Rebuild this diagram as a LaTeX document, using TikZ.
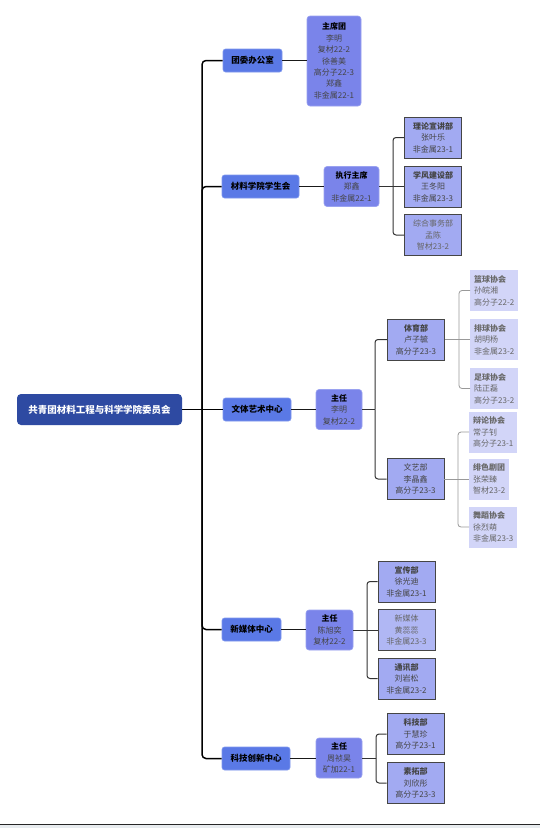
\documentclass[tikz,border=0pt]{standalone}
\usepackage{fontspec}
\setmainfont{Noto Sans CJK SC}
\definecolor{rootc}{HTML}{2E4AA2}
\definecolor{lonec}{HTML}{5A79E6}
\definecolor{loneb}{HTML}{7F98EE}
\definecolor{ltwoc}{HTML}{7A84EA}
\definecolor{ltwob}{HTML}{9AA2F0}
\definecolor{lthreec}{HTML}{A2AAF2}
\definecolor{lthreeb}{HTML}{454545}
\definecolor{lfourc}{HTML}{D2D5F8}
\definecolor{tgray}{HTML}{444444}
\definecolor{tlight}{HTML}{666666}
\definecolor{bandc}{HTML}{E8ECEF}
\tikzset{
  rootbox/.style={fill=rootc, rounded corners=4pt, text=white, font=\fontsize{9.5}{12}\selectfont\bfseries, minimum width=165pt, minimum height=31pt, inner sep=0pt},
  onebox/.style={fill=lonec, draw=loneb, line width=0.6pt, rounded corners=2.5pt, font=\fontsize{8.5}{11}\selectfont\bfseries, minimum height=23pt, inner sep=0pt},
  twobox/.style={fill=ltwoc, draw=ltwob, line width=0.6pt, rounded corners=3pt, align=center, font=\fontsize{8}{11.4}\selectfont, text=tgray, minimum height=40pt, inner sep=0pt},
  threebox/.style={fill=lthreec, draw=lthreeb, line width=0.8pt, align=center, font=\fontsize{8}{11.4}\selectfont, text=tgray, minimum width=57pt, minimum height=41pt, inner sep=0pt},
  fourbox/.style={fill=lfourc, align=left, anchor=west, font=\fontsize{8}{11.4}\selectfont, text=tlight, minimum height=41pt, inner xsep=4pt, inner ysep=0pt},
  trunk/.style={draw=black, line width=1.5pt, rounded corners=4pt},
  conntwo/.style={draw=black!90, line width=1.1pt, rounded corners=3pt},
  connthree/.style={draw=black!80, line width=1pt, rounded corners=3pt},
  connfour/.style={draw=black!40, line width=0.8pt, rounded corners=3pt},
}
\newcommand{\ttl}[1]{{\bfseries\color{black}#1}}
\newcommand{\ttlg}[1]{{\bfseries\color{tgray}#1}}
\begin{document}
\begin{tikzpicture}[x=1pt,y=-1pt]
\useasboundingbox (0,0) rectangle (540,828);
\fill[white] (0,0) rectangle (540,828);
\fill[bandc] (0,825) rectangle (540,828);
\draw[black!85, line width=1pt] (0,824.5) -- (540,824.5);

% root
\node[rootbox] (root) at (99.5,409.5) {共青团材料工程与科学学院委员会};

% level 1
\node[onebox, minimum width=59pt] (a1) at (252.5,60.5) {团委办公室};
\node[onebox, minimum width=77pt] (b1) at (260.5,186.5) {材料学院学生会};
\node[onebox, minimum width=68pt] (c1) at (257,409.5) {文体艺术中心};
\node[onebox, minimum width=59pt] (d1) at (251.5,629.5) {新媒体中心};
\node[onebox, minimum width=68pt] (e1) at (256,758.5) {科技创新中心};

% level 2
\node[twobox, minimum width=54pt, minimum height=90pt] (a2) at (334,61) {\ttl{主席团}\\李明\\复材22-2\\徐善美\\高分子22-3\\郑鑫\\非金属22-1};
\node[twobox, minimum width=55pt] (b2) at (351.5,186.5) {\ttl{执行主席}\\郑鑫\\非金属22-1};
\node[twobox, minimum width=46pt] (c2) at (339,409.5) {\ttl{主任}\\李明\\复材22-2};
\node[twobox, minimum width=47pt] (d2) at (329.5,630) {\ttl{主任}\\陈旭奕\\复材22-2};
\node[twobox, minimum width=46pt] (e2) at (339,758) {\ttl{主任}\\周祯昊\\矿加22-1};

% level 3
\node[threebox] (b3a) at (433,137.5) {\ttlg{理论宣讲部}\\张叶乐\\非金属23-1};
\node[threebox] (b3b) at (433,186.5) {\ttlg{学风建设部}\\王冬阳\\非金属23-3};
\node[threebox, text=tlight] (b3c) at (433,235) {综合事务部\\孟陈\\智材23-2};
\node[threebox] (c3a) at (416,339.5) {\ttlg{体育部}\\卢子毓\\高分子23-3};
\node[threebox] (c3b) at (415.5,479) {文艺部\\李晶鑫\\高分子23-3};
\node[threebox] (d3a) at (406.5,581.5) {\ttlg{宣传部}\\徐光迪\\非金属23-1};
\node[threebox, text=tlight, fill=lthreec!85!white] (d3b) at (406.5,630) {新媒体\\黄蕊蕊\\非金属23-3};
\node[threebox] (d3c) at (406.5,678.5) {\ttlg{通讯部}\\刘岩松\\非金属23-2};
\node[threebox] (e3a) at (415.5,734) {\ttlg{科技部}\\于慧珍\\高分子23-1};
\node[threebox] (e3b) at (415.5,783) {\ttlg{素拓部}\\刘欣彤\\高分子23-3};

% level 4
\node[fourbox] (f1) at (470,290.5) {{\bfseries\color{tgray!80}篮球协会}\\孙皖湘\\高分子22-2};
\node[fourbox] (f2) at (470,339.5) {{\bfseries\color{tgray!80}排球协会}\\胡明杨\\非金属23-2};
\node[fourbox] (f3) at (470,388.5) {{\bfseries\color{tgray!80}足球协会}\\陆正磊\\高分子23-2};
\node[fourbox] (g1) at (469,432) {{\bfseries\color{tgray!80}辩论协会}\\常子钊\\高分子23-1};
\node[fourbox] (g2) at (469,479) {{\bfseries\color{tgray!80}绯色剧团}\\张荣臻\\智材23-2};
\node[fourbox] (g3) at (469,527) {{\bfseries\color{tgray!80}舞蹈协会}\\徐烈萌\\非金属23-3};

% trunk
\coordinate (tr) at (202,409.5);
\draw[trunk] (root.east) -- (tr);
\draw[trunk] (tr) |- (a1.west);
\draw[trunk] (tr) |- (b1.west);
\draw[trunk] (tr) -- (c1.west);
\draw[trunk] (tr) |- (d1.west);
\draw[trunk] (tr) |- (e1.west);

% level1 -> level2
\draw[conntwo] (a1.east) -- (a1.east -| a2.west);
\draw[conntwo] (b1.east) -- (b1.east -| b2.west);
\draw[conntwo] (c1.east) -- (c1.east -| c2.west);
\draw[conntwo] (d1.east) -- (d1.east -| d2.west);
\draw[conntwo] (e1.east) -- (e1.east -| e2.west);

% level2 -> level3
\coordinate (jb) at (393,186.5);
\draw[connthree] (b2.east) -- (jb);
\draw[connthree] (jb) |- (b3a.west);
\draw[connthree] (jb) -- (b3b.west);
\draw[connthree] (jb) |- (b3c.west);
\coordinate (jc) at (375,409.5);
\draw[connthree] (c2.east) -- (jc);
\draw[connthree] (jc) |- (c3a.west);
\draw[connthree] (jc) |- (c3b.west);
\coordinate (jd) at (367,630);
\draw[connthree] (d2.east) -- (jd);
\draw[connthree] (jd) |- (d3a.west);
\draw[connthree] (jd) -- (d3b.west);
\draw[connthree] (jd) |- (d3c.west);
\coordinate (je) at (376,758);
\draw[connthree] (e2.east) -- (je);
\draw[connthree] (je) |- (e3a.west);
\draw[connthree] (je) |- (e3b.west);

% level3 -> level4
\coordinate (jf) at (459,339.5);
\draw[connfour] (c3a.east) -- (jf);
\draw[connfour] (jf) |- (f1.west);
\draw[connfour] (jf) -- (f2.west);
\draw[connfour] (jf) |- (f3.west);
\coordinate (jg) at (458,479);
\draw[connfour] (c3b.east) -- (jg);
\draw[connfour] (jg) |- (g1.west);
\draw[connfour] (jg) -- (g2.west);
\draw[connfour] (jg) |- (g3.west);
\end{tikzpicture}
\end{document}
